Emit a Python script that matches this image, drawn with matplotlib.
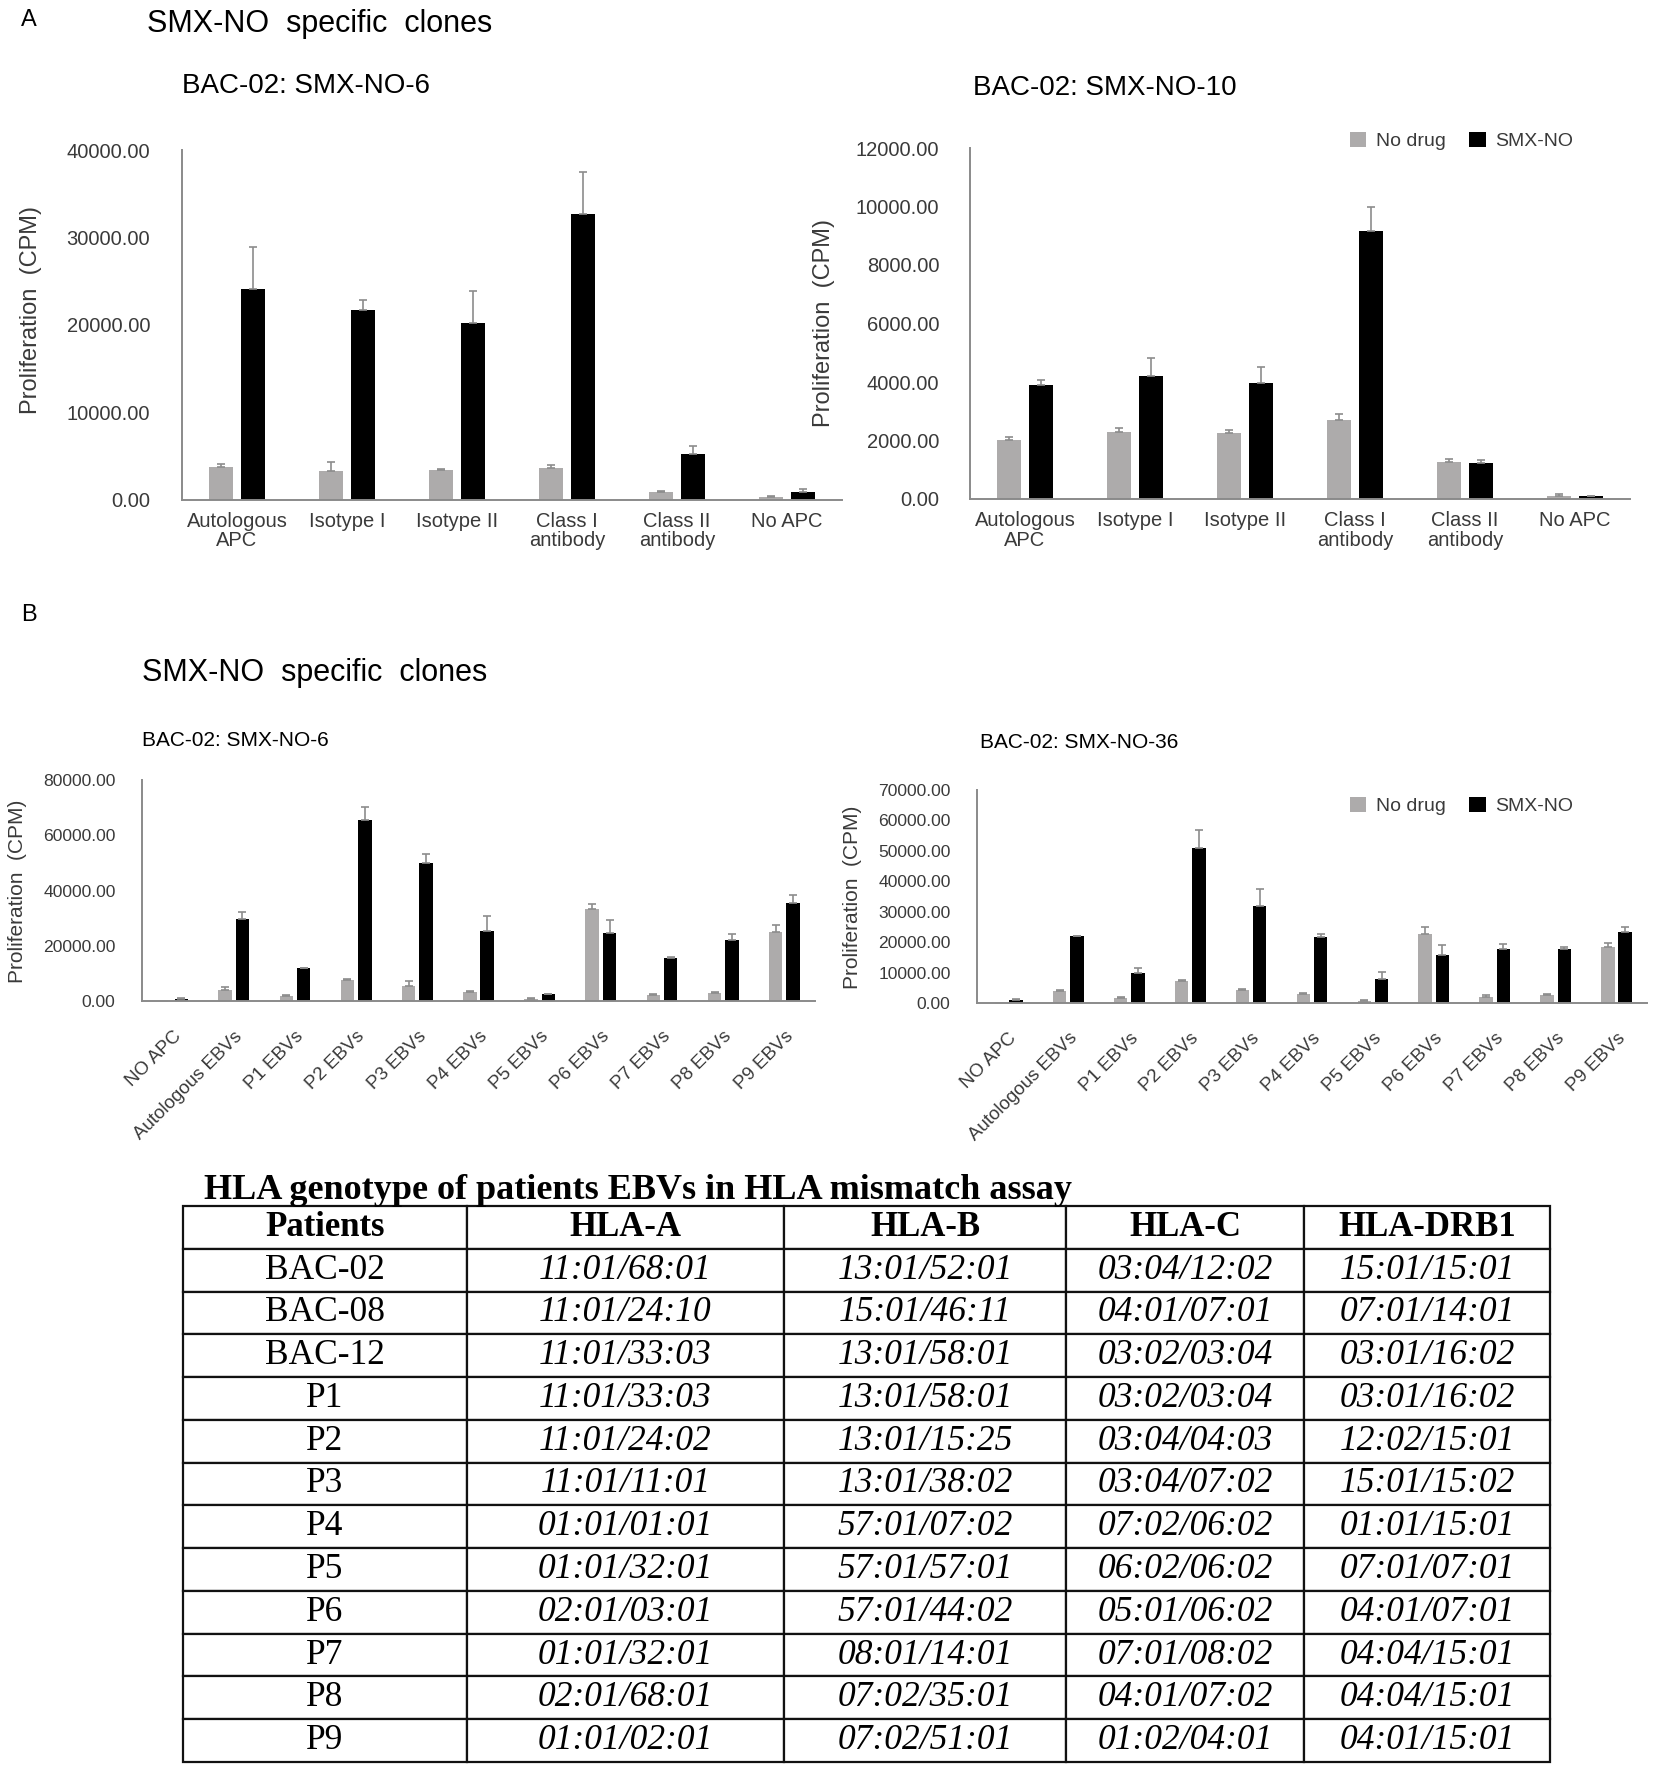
import matplotlib

matplotlib.use("Agg")
import matplotlib.pyplot as plt
import numpy as np
from matplotlib.ticker import FixedLocator, StrMethodFormatter

plt.rcParams["font.family"] = ["Liberation Sans", "DejaVu Sans"]

W, H = 1654, 1773

# ---- panel A data (CPM) ----
apc_labels = ["Autologous\nAPC", "Isotype I", "Isotype II", "Class I\nantibody",
              "Class II\nantibody", "No APC"]

a6_nodrug = [3790, 3330, 3450, 3620, 930, 380]
a6_nodrug_err = [290, 960, 90, 340, 120, 120]
a6_smx = [24170, 21680, 20210, 32720, 5220, 930]
a6_smx_err = [4760, 1220, 3660, 4710, 970, 290]

a10_nodrug = [2030, 2290, 2260, 2700, 1280, 110]
a10_nodrug_err = [100, 130, 100, 190, 80, 50]
a10_smx = [3900, 4200, 3970, 9150, 1230, 100]
a10_smx_err = [160, 630, 530, 820, 110, 10]

# ---- panel B data (CPM) ----
ebv_labels = ["NO APC", "Autologous EBVs", "P1 EBVs", "P2 EBVs", "P3 EBVs", "P4 EBVs",
              "P5 EBVs", "P6 EBVs", "P7 EBVs", "P8 EBVs", "P9 EBVs"]

b6_nodrug = [240, 4270, 1830, 7680, 5490, 3410, 980, 33540, 2200, 3050, 25000]
b6_nodrug_err = [100, 970, 370, 370, 1830, 490, 240, 1830, 370, 240, 2800]
b6_smx = [980, 29880, 11950, 65610, 50120, 25370, 2560, 24760, 15610, 22200, 35610]
b6_smx_err = [240, 2560, 250, 4510, 3050, 5480, 100, 4510, 610, 2310, 2800]

b36_nodrug = [150, 4000, 1670, 7330, 4220, 3110, 890, 22890, 2220, 2560, 18330]
b36_nodrug_err = [100, 220, 330, 230, 340, 330, 220, 2220, 340, 330, 1450]
b36_smx = [1220, 22000, 10000, 50890, 32000, 21670, 8110, 15890, 17890, 17890, 23440]
b36_smx_err = [220, 220, 1440, 5890, 5560, 1220, 2220, 3330, 1670, 550, 1560]

# ---- HLA table ----
table_title = "HLA genotype of patients EBVs in HLA mismatch assay"
table_header = ["Patients", "HLA-A", "HLA-B", "HLA-C", "HLA-DRB1"]
patients = ["BAC-02", "BAC-08", "BAC-12", "P1", "P2", "P3", "P4", "P5", "P6", "P7", "P8", "P9"]
hla_a = ["11:01/68:01", "11:01/24:10", "11:01/33:03", "11:01/33:03", "11:01/24:02", "11:01/11:01",
         "01:01/01:01", "01:01/32:01", "02:01/03:01", "01:01/32:01", "02:01/68:01", "01:01/02:01"]
hla_b = ["13:01/52:01", "15:01/46:11", "13:01/58:01", "13:01/58:01", "13:01/15:25", "13:01/38:02",
         "57:01/07:02", "57:01/57:01", "57:01/44:02", "08:01/14:01", "07:02/35:01", "07:02/51:01"]
hla_c = ["03:04/12:02", "04:01/07:01", "03:02/03:04", "03:02/03:04", "03:04/04:03", "03:04/07:02",
         "07:02/06:02", "06:02/06:02", "05:01/06:02", "07:01/08:02", "04:01/07:02", "01:02/04:01"]
hla_drb1 = ["15:01/15:01", "07:01/14:01", "03:01/16:02", "03:01/16:02", "12:02/15:01", "15:01/15:02",
            "01:01/15:01", "07:01/07:01", "04:01/07:01", "04:04/15:01", "04:04/15:01", "04:01/15:01"]

GRAY = "#adabab"
BLACK = "#000000"
ERR = "#8c8c8c"
AXIS = "#8a8a8a"
TXT = "#3a3a3a"


def px_rect(x0, y_top, x1, y_bot):
    """pixel box -> figure fraction [left, bottom, width, height]"""
    return [x0 / W, 1 - y_bot / H, (x1 - x0) / W, (y_bot - y_top) / H]


def bar_panel(ax, labels, nodrug, nodrug_err, smx, smx_err, ymax, ystep,
              tick_fs, xtick_fs, label_fs, ypad, rotate=False):
    x = np.arange(len(labels))
    w, off = 0.22, 0.142
    ax.bar(x - off, nodrug, w, color=GRAY, label="No drug", zorder=2)
    ax.bar(x + off, smx, w, color=BLACK, label="SMX-NO", zorder=2)
    zeros = np.zeros(len(labels))
    ax.errorbar(x - off, nodrug, yerr=[zeros, nodrug_err], fmt="none", ecolor=ERR,
                elinewidth=1.2, capsize=3, capthick=1.2, zorder=3)
    ax.errorbar(x + off, smx, yerr=[zeros, smx_err], fmt="none", ecolor=ERR,
                elinewidth=1.2, capsize=3, capthick=1.2, zorder=3)
    ax.set_xlim(-0.5, len(labels) - 0.5)
    ax.set_ylim(0, ymax)
    ax.yaxis.set_major_locator(FixedLocator(np.arange(0, ymax + 1, ystep)))
    ax.yaxis.set_major_formatter(StrMethodFormatter("{x:.2f}"))
    ax.set_xticks(x)
    if rotate:
        ax.set_xticklabels(labels, rotation=45, ha="right", va="top",
                           rotation_mode="anchor", fontsize=xtick_fs, color=TXT)
        ax.tick_params(axis="x", length=0, pad=19)
    else:
        ax.set_xticklabels(labels, fontsize=xtick_fs, color=TXT, linespacing=1.0)
        ax.tick_params(axis="x", length=0, pad=9)
    ax.tick_params(axis="y", length=0, pad=ypad, labelsize=tick_fs, labelcolor=TXT)
    for s in ("top", "right"):
        ax.spines[s].set_visible(False)
    for s in ("left", "bottom"):
        ax.spines[s].set_color(AXIS)
        ax.spines[s].set_linewidth(1.4)
    ax.set_ylabel("Proliferation  (CPM)", fontsize=label_fs, color=TXT)


def add_legend(ax, y_px):
    ax.legend(loc="center left", bbox_to_anchor=(1340 / W, 1 - y_px / H),
              bbox_transform=fig.transFigure, ncol=2, frameon=False, fontsize=14,
              handlelength=0.85, handleheight=0.85, handletextpad=0.5,
              columnspacing=1.2, borderpad=0, labelcolor=TXT)


fig = plt.figure(figsize=(W / 100, H / 100), dpi=100)

# ---------- panel A ----------
fig.text(29 / W, 1 - 20 / H, "A", fontsize=17, ha="center", va="center")
fig.text(147 / W, 1 - 24 / H, "SMX-NO  specific  clones", fontsize=22, ha="left", va="center")

ax1 = fig.add_axes(px_rect(182, 150, 842, 500))
bar_panel(ax1, apc_labels, a6_nodrug, a6_nodrug_err, a6_smx, a6_smx_err,
          40000, 10000, 14.5, 14.5, 17, 23)
ax1.yaxis.set_label_coords(-0.212, 0.543)
fig.text(182 / W, 1 - 86 / H, "BAC-02: SMX-NO-6", fontsize=20, ha="left", va="center")

ax2 = fig.add_axes(px_rect(970, 148, 1630, 499))
bar_panel(ax2, apc_labels, a10_nodrug, a10_nodrug_err, a10_smx, a10_smx_err,
          12000, 2000, 14.5, 14.5, 17, 22)
ax2.yaxis.set_label_coords(-0.2045, 0.501)
fig.text(973 / W, 1 - 88 / H, "BAC-02: SMX-NO-10", fontsize=20, ha="left", va="center")
add_legend(ax2, 141)

# ---------- panel B ----------
fig.text(29 / W, 1 - 615 / H, "B", fontsize=17, ha="center", va="center")
fig.text(142 / W, 1 - 673 / H, "SMX-NO  specific  clones", fontsize=22, ha="left", va="center")

ax3 = fig.add_axes(px_rect(142, 780, 815, 1001.5))
bar_panel(ax3, ebv_labels, b6_nodrug, b6_nodrug_err, b6_smx, b6_smx_err,
          80000, 20000, 12.6, 13.5, 15, 19, rotate=True)
ax3.yaxis.set_label_coords(-0.171, 0.498)
fig.text(142 / W, 1 - 741 / H, "BAC-02: SMX-NO-6", fontsize=15, ha="left", va="center")

ax4 = fig.add_axes(px_rect(977, 790, 1647, 1003.3))
bar_panel(ax4, ebv_labels, b36_nodrug, b36_nodrug_err, b36_smx, b36_smx_err,
          70000, 10000, 12.6, 13.5, 15, 19, rotate=True)
ax4.yaxis.set_label_coords(-0.172, 0.499)
fig.text(980 / W, 1 - 742 / H, "BAC-02: SMX-NO-36", fontsize=15, ha="left", va="center")
add_legend(ax4, 806)

# ---------- HLA table ----------
fig.text(204 / W, 1 - 1199 / H, table_title, fontsize=26, fontweight="bold",
         family=["Liberation Serif", "DejaVu Serif"], ha="left", va="baseline")

col_px = [183, 467, 784, 1066, 1304, 1550]
axt = fig.add_axes(px_rect(col_px[0], 1206, col_px[-1], 1762))
axt.axis("off")
rows = [list(r) for r in zip(patients, hla_a, hla_b, hla_c, hla_drb1)]
widths = np.diff(col_px) / (col_px[-1] - col_px[0])
tbl = axt.table(cellText=rows, colLabels=table_header, colWidths=list(widths),
                cellLoc="center", bbox=[0, 0, 1, 1])
tbl.auto_set_font_size(False)
for (r, c), cell in tbl.get_celld().items():
    cell.set_edgecolor("#111111")
    cell.set_linewidth(1.6)
    t = cell.get_text()
    t.set_fontfamily(["Liberation Serif", "DejaVu Serif"])
    if r == 0:
        t.set_fontweight("bold")
        t.set_fontsize(25)
    else:
        t.set_fontsize(25.5)
        if c > 0:
            t.set_fontstyle("italic")

fig.savefig("out.png", dpi=100)
